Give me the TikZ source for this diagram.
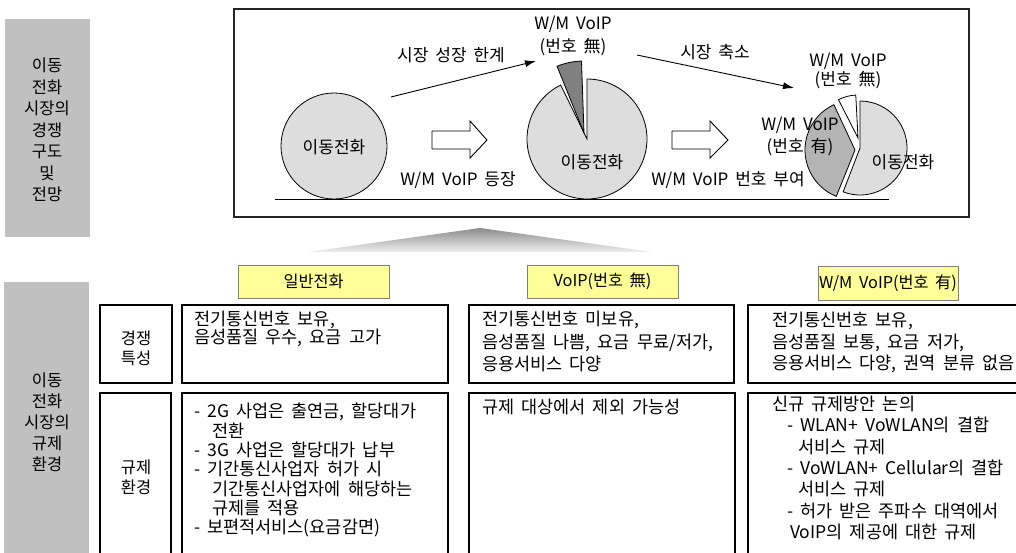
\documentclass[tikz,border=0pt]{standalone}
\usepackage{fontspec}
\setmainfont{Noto Sans CJK KR}[WordSpace=1.8]
\usetikzlibrary{arrows.meta}
\lineskiplimit=-20pt
\definecolor{panelgray}{HTML}{C0C0C0}
\definecolor{pielight}{HTML}{DDDDDD}
\definecolor{piedark}{HTML}{808080}
\definecolor{piemid}{HTML}{B4B4B4}
\definecolor{hdryellow}{HTML}{FFFF99}
\begin{document}
\begin{tikzpicture}[x=1pt,y=1pt,
  panel/.style={fill=panelgray,draw=none},
  ptext/.style={font=\fontsize{16.5}{21.5}\selectfont,align=center,inner sep=0pt},
  ttext/.style={font=\fontsize{17}{20}\selectfont,align=center,inner sep=0pt},
  btext/.style={font=\fontsize{17.5}{19.3}\selectfont,align=left,inner sep=0pt,anchor=north west},
  hdr/.style={fill=hdryellow,draw=black!50,line width=1pt,inner sep=0pt,font=\fontsize{16.3}{19}\selectfont},
  cell/.style={draw=black,line width=1.2pt,fill=white},
  pieline/.style={draw=black,line width=0.8pt},
  thinarrow/.style={draw=black,line width=0.9pt,-{Latex[length=11pt,width=7pt]}},
  hollow/.style={draw=black,line width=0.9pt,fill=white}]
\useasboundingbox (0,0) rectangle (1016,-552);
\clip (0,0) rectangle (1016,-552);

% gray side panels
\fill[panel] (5,-19) rectangle (90,-237);
\node[ptext] (p1) at (47,-130) {이동\\전화\\시장의\\경쟁\\구도\\및\\전망};
\fill[panel] (4,-282) rectangle (89,-570);
\node[ptext,font=\fontsize{16.5}{21}\selectfont] (p2) at (47,-422) {이동\\전화\\시장의\\규제\\환경};

% top frame
\draw[line width=1.3pt,draw=black!85] (234,-9) rectangle (969,-217);
\draw[line width=0.9pt] (275,-199.5) -- (889,-199.5);

% circle 1
\filldraw[fill=pielight,pieline] (334,-146) circle[radius=53];
\node[ttext] (c1) at (334,-147) {이동전화};

% hollow arrows
\draw[hollow] (432,-131) -- (470,-131) -- (470,-121) -- (487,-140) -- (470,-158) -- (470,-149) -- (432,-149) -- cycle;
\draw[hollow] (672,-131) -- (710,-131) -- (710,-121) -- (728,-140) -- (710,-158) -- (710,-149) -- (672,-149) -- cycle;

% pie 2
\filldraw[fill=pielight,pieline] (587,-139) -- +(116:60) arc[start angle=116,end angle=450,radius=60] -- cycle;
\filldraw[fill=piedark,pieline] (584,-133) -- +(92:72) arc[start angle=92,end angle=112,radius=72] -- cycle;
\node[ttext] (c2) at (592,-162) {이동전화};

% pie 3
\filldraw[fill=pielight,pieline] (860,-148) -- +(-111:47) arc[start angle=-111,end angle=90,radius=47] -- cycle;
\filldraw[fill=piemid,pieline] (855,-150) -- +(115:50) arc[start angle=115,end angle=248,radius=50] -- cycle;
\filldraw[fill=white,pieline] (858,-138) -- +(93:43) arc[start angle=93,end angle=117,radius=43] -- cycle;
\node[ttext] (c3) at (903,-162) {이동전화};

% labels in top frame
\node[ttext] (l1) at (451,-55) {시장 성장 한계};
\node[ttext,font=\fontsize{17}{23}\selectfont] (l2) at (573,-36) {W/M VoIP\\(번호 無)};
\node[ttext] (l3) at (458,-180) {W/M VoIP 등장};
\node[ttext] (l4) at (715,-52) {시장 축소};
\node[ttext,font=\fontsize{17}{19}\selectfont] (l5) at (848,-71) {W/M VoIP\\(번호 無)};
\node[ttext,font=\fontsize{17}{22}\selectfont] (l6) at (800,-136) {W/M VoIP\\(번호 有)};
\node[ttext] (l7) at (728,-180) {W/M VoIP 번호 부여};

% thin arrows
\coordinate (a1s) at (391,-97);
\coordinate (a1e) at (536,-61);
\coordinate (a2s) at (637,-55);
\coordinate (a2e) at (794,-88);
\draw[thinarrow] (a1s) -- (a1e);
\draw[thinarrow] (a2s) -- (a2e);

% gradient triangle
\shade[top color=black!45,bottom color=black!6] (480,-228) -- (652,-252) -- (308,-252) -- cycle;

% headers
\node[hdr,minimum width=151pt,minimum height=33pt] (h1) at (313.5,-281.5) {일반전화};
\node[hdr,minimum width=151pt,minimum height=33pt] (h2) at (602.5,-281.5) {VoIP(번호 無)};
\node[hdr,minimum width=140pt,minimum height=34pt] (h3) at (888,-283) {W/M VoIP(번호 有)};

% row labels
\draw[cell] (100,-305) rectangle (172,-383);
\node[ttext,font=\fontsize{16.5}{20}\selectfont] (r1) at (136,-348) {경쟁\\특성};
\draw[cell] (100,-393) rectangle (171,-570);
\node[ttext,font=\fontsize{16.5}{20}\selectfont] (r2) at (136,-477) {규제\\환경};

% cells
\draw[cell] (182,-305) rectangle (448,-383);
\draw[cell] (469,-305) rectangle (734,-383);
\draw[cell] (748,-305) rectangle (1030,-383);
\draw[cell] (182,-393) rectangle (448,-570);
\draw[cell] (469,-393) rectangle (735,-570);
\draw[cell] (748,-393) rectangle (1030,-570);

\node[btext,font=\fontsize{17.5}{18}\selectfont] (t11) at (194,-311) {전기통신번호 보유,\\음성품질 우수, 요금 고가};
\node[btext,font=\fontsize{17.5}{22.5}\selectfont] (t12) at (482,-311) {전기통신번호 미보유,\\음성품질 나쁨, 요금 무료/저가,\\응용서비스 다양};
\node[btext,font=\fontsize{17.5}{21.5}\selectfont] (t13) at (772,-312) {전기통신번호 보유,\\음성품질 보통, 요금 저가,\\응용서비스 다양, 권역 분류 없음};

\node[btext] (t21) at (194,-403) {- 2G 사업은 출연금, 할당대가\\\hspace*{18pt}전환\\- 3G 사업은 할당대가 납부\\- 기간통신사업자 허가 시\\\hspace*{18pt}기간통신사업자에 해당하는\\\hspace*{18pt}규제를 적용\\- 보편적서비스(요금감면)};
\node[btext] (t22) at (482,-399) {규제 대상에서 제외 가능성};
\node[btext,font=\fontsize{17.5}{21.3}\selectfont] (t23) at (772,-396) {신규 규제방안 논의\\\hspace*{15pt}- WLAN+ VoWLAN의 결합\\\hspace*{26pt}서비스 규제\\\hspace*{15pt}- VoWLAN+ Cellular의 결합\\\hspace*{26pt}서비스 규제\\\hspace*{15pt}- 허가 받은 주파수 대역에서\\\hspace*{18pt}VoIP의 제공에 대한 규제};
\end{tikzpicture}
\end{document}
